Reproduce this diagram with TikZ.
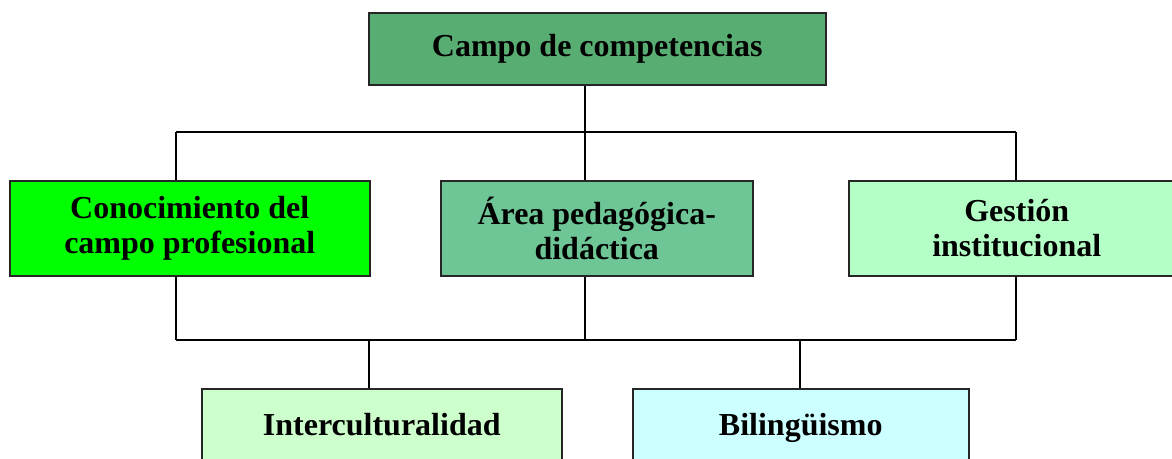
\documentclass[tikz,border=0pt]{standalone}
\usepackage{fontspec}
\setmainfont{Liberation Serif}
\begin{document}
\begin{tikzpicture}[x=1pt,y=-1pt,
  box/.style={draw=black!85,line width=1.5pt,inner sep=0pt,anchor=north west,
    font=\fontsize{32}{35}\selectfont\bfseries,align=center},
  conn/.style={draw=black,line width=1.6pt}]
\useasboundingbox (0,0) rectangle (1172,458);
\definecolor{cTop}{HTML}{58AD73}
\definecolor{cOne}{HTML}{00FF00}
\definecolor{cTwo}{HTML}{6EC696}
\definecolor{cThree}{HTML}{B3FFC6}
\definecolor{cFour}{HTML}{CCFFCC}
\definecolor{cFive}{HTML}{CCFFFF}
% boxes
\node[box,fill=cTop,minimum width=457pt,minimum height=72pt] (top) at (368,12) {Campo de competencias};
\node[box,fill=cOne,minimum width=360pt,minimum height=95pt] (b1) at (9,180) {Conocimiento del\\campo profesional};
\node[box,fill=cTwo,minimum width=312pt,minimum height=95pt] (b2) at (440,180) {Área pedagógica-\\didáctica};
\node[box,fill=cThree,minimum width=336pt,minimum height=95pt] (b3) at (848,180) {Gestión\\institucional};
\node[box,fill=cFour,minimum width=360pt,minimum height=95pt] (b4) at (201,388) {\raisebox{23pt}{Interculturalidad}};
\node[box,fill=cFive,minimum width=336pt,minimum height=95pt] (b5) at (632,388) {\raisebox{23pt}{Bilingüismo}};
% junctions
\coordinate (j1) at (585,132);
\coordinate (j1l) at (176,132);
\coordinate (j1r) at (1016,132);
\coordinate (j2l) at (176,340);
\coordinate (j2m) at (585,340);
\coordinate (j2r) at (1016,340);
\coordinate (j2a) at (369,340);
\coordinate (j2b) at (800,340);
% connectors
\draw[conn] (j1 |- top.south) -- (j1);
\draw[conn] (j1l) -- (j1r);
\draw[conn] (j1l) -- (j1l |- b1.north);
\draw[conn] (j1) -- (j1 |- b2.north);
\draw[conn] (j1r) -- (j1r |- b3.north);
\draw[conn] (j2l |- b1.south) -- (j2l);
\draw[conn] (j2m |- b2.south) -- (j2m);
\draw[conn] (j2r |- b3.south) -- (j2r);
\draw[conn] (j2l) -- (j2r);
\draw[conn] (j2a) -- (j2a |- b4.north);
\draw[conn] (j2b) -- (j2b |- b5.north);
\end{tikzpicture}
\end{document}
